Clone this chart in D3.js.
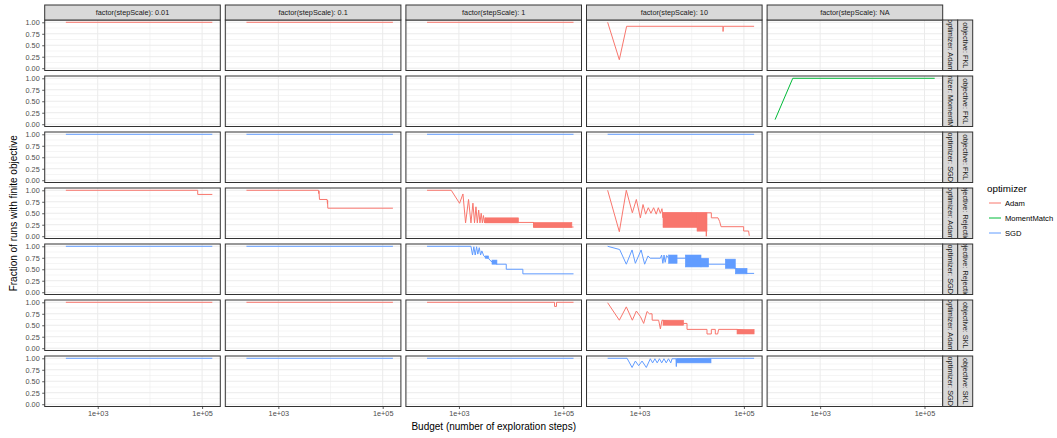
<!DOCTYPE html>
<html>
<head>
<meta charset="utf-8">
<script src="https://cdn.jsdelivr.net/npm/d3@7"></script>
<style>
    body { margin: 0; background: #fff; }
    text { font-family: "Liberation Sans", Arial, Helvetica, sans-serif; }
</style>
</head>
<body>
<div id="chart"></div>
<script>
// facet levels
var stepScales = ["0.01", "0.1", "1", "10", "NA"];
var objectives = ["FKL", "FKL", "FKL", "Rejection", "Rejection", "SKL", "SKL"];
var rowOptimizers = ["Adam", "MomentMatch", "SGD", "Adam", "SGD", "Adam", "SGD"];
var optimizers = ["Adam", "MomentMatch", "SGD"];
var optimizerColors = ["#F8766D", "#00BA38", "#619CFF"];
var xTicks = [1e3, 1e5];
var yTicks = [0, 0.25, 0.5, 0.75, 1];

// [budget, fraction] per panel
var flatRun = [[245, 1], [157000, 1]];
var fklAdam10 = [[245, 1], [410, 0.185], [566, 0.913], [39800, 0.913], [39900, 0.80], [40300, 0.913], [157000, 0.913]];
var fklMomentNA = [[137, 0.1], [299, 1], [157000, 1]];
var rejAdam001 = [[245, 1], [82400, 1], [82400, 0.91], [157000, 0.91]];
var rejAdam01 = [[245, 1], [5880, 1], [5950, 0.93], [6000, 0.99], [6150, 0.80], [8600, 0.80], [8750, 0.70], [8800, 0.78], [8870, 0.61], [157000, 0.61]];
var rejAdam1 = [[245, 1], [713, 1], [1028, 0.717], [1194, 0.92], [1340, 0.29], [1528, 0.80], [1700, 0.29], [1855, 0.72],
    [1990, 0.29], [2120, 0.64], [2250, 0.29], [2390, 0.57], [2530, 0.29], [2670, 0.50], [2810, 0.29], [2950, 0.45],
    [3090, 0.29], [3190, 0.40], [3190, 0.30], [13870, 0.30], [26900, 0.30], [26900, 0.20], [157000, 0.20]];
var rejAdam10 = [[245, 1], [410, 0.098], [558, 1], [728, 0.51], [869, 0.80], [1038, 0.40], [1167, 0.69], [1309, 0.48],
    [1472, 0.62], [1656, 0.50], [1862, 0.62], [2089, 0.48], [2291, 0.62], [2512, 0.50], [2692, 0.60], [2818, 0.40],
    [2818, 0.51], [19050, 0.51], [19050, 0.0], [19200, 0.51], [23770, 0.51], [23770, 0.40], [31900, 0.40],
    [34300, 0.32], [36500, 0.207], [98900, 0.207], [98900, 0.113], [123000, 0.113], [127000, 0.01]];
var rejSgd1 = [[245, 1], [1700, 1], [1820, 0.81], [1930, 0.99], [2050, 0.81], [2180, 0.99], [2300, 0.83], [2450, 0.97],
    [2600, 0.81], [2750, 0.90], [3000, 0.79], [3190, 0.76], [3700, 0.74], [3900, 0.70], [4300, 0.66], [5350, 0.61],
    [8070, 0.61], [8070, 0.50], [16800, 0.50], [16800, 0.40], [157000, 0.40]];
var rejSgd10 = [[245, 1], [416, 0.93], [558, 0.61], [719, 0.92], [832, 0.63], [1072, 0.92], [1253, 0.61], [1455, 0.79],
    [1600, 0.74], [2512, 0.74], [2650, 0.81], [2800, 0.63], [2950, 0.81], [3100, 0.65], [3300, 0.80], [3614, 0.74],
    [5240, 0.74], [7550, 0.74], [15070, 0.70], [21090, 0.61], [44060, 0.61], [68550, 0.52], [114800, 0.41], [157000, 0.41]];
var sklAdam1 = [[245, 1], [67900, 1], [67900, 0.91], [74100, 0.91], [74100, 1], [157000, 1]];
var sklAdam10 = [[245, 0.99], [410, 0.61], [558, 0.90], [728, 0.61], [869, 0.81], [1038, 0.69], [1200, 0.54], [1393, 0.80],
    [1542, 0.75], [1738, 0.75], [1750, 0.61], [2323, 0.61], [2512, 0.42], [2692, 0.61], [7000, 0.54], [8130, 0.54],
    [8130, 0.41], [19630, 0.41], [19630, 0.31], [23770, 0.31], [23770, 0.41], [28330, 0.41], [28330, 0.31],
    [31400, 0.31], [32800, 0.41], [73800, 0.41], [157000, 0.36]];
var sklSgd10 = [[245, 1], [577, 1], [720, 0.80], [832, 0.94], [962, 0.84], [1117, 0.94], [1349, 0.80], [1610, 0.99],
    [1780, 0.90], [1970, 0.99], [2180, 0.90], [2410, 0.99], [2660, 0.90], [2940, 0.99], [3250, 0.90], [3590, 0.99],
    [3970, 0.90], [4200, 0.99], [5000, 0.99], [5070, 0.82], [5150, 0.99], [23440, 1], [157000, 1]];

// dense oscillation regions: [row, col, budget from, budget to, low, high]
var denseBands = [
    [3, 2, 3190, 13870, 0.29, 0.40],
    [3, 2, 26900, 146000, 0.19, 0.30],
    [3, 3, 2818, 12650, 0.19, 0.51],
    [3, 3, 12650, 19630, 0.11, 0.51],
    [4, 2, 3190, 3700, 0.74, 0.79],
    [4, 2, 4300, 5350, 0.61, 0.70],
    [4, 3, 3614, 5240, 0.63, 0.81],
    [4, 3, 7550, 15070, 0.55, 0.81],
    [4, 3, 15070, 21090, 0.55, 0.74],
    [4, 3, 44060, 68550, 0.52, 0.72],
    [4, 3, 68550, 114800, 0.40, 0.52],
    [5, 3, 2818, 7000, 0.50, 0.61],
    [5, 3, 73800, 157000, 0.31, 0.41],
    [6, 3, 5150, 23440, 0.90, 0.99]
];

// [row, col, points]
var series = [
    [0, 0, flatRun], [0, 1, flatRun], [0, 2, flatRun], [0, 3, fklAdam10],
    [1, 4, fklMomentNA],
    [2, 0, flatRun], [2, 1, flatRun], [2, 2, flatRun], [2, 3, flatRun],
    [3, 0, rejAdam001], [3, 1, rejAdam01], [3, 2, rejAdam1], [3, 3, rejAdam10],
    [4, 0, flatRun], [4, 1, flatRun], [4, 2, rejSgd1], [4, 3, rejSgd10],
    [5, 0, flatRun], [5, 1, flatRun], [5, 2, sklAdam1], [5, 3, sklAdam10],
    [6, 0, flatRun], [6, 1, flatRun], [6, 2, flatRun], [6, 3, sklSgd10]
];

var layout = {left: 44.7, top: 20, panelW: 175.6, panelH: 50.5, stepX: 180.6, stepY: 56, stripH: 15, stripW: 15};
var stripFill = "#D9D9D9", darkLine = "#333333", gridColor = "#EBEBEB";

function colX(c) { return layout.left + c * layout.stepX; }
function rowY(r) { return layout.top + r * layout.stepY; }

var color = d3.scaleOrdinal().domain(optimizers).range(optimizerColors);

// log x scale with ggplot-like 5% expansion
var allX = [];
series.forEach(function (s) { s[2].forEach(function (p) { allX.push(Math.log10(p[0])); }); });
var lo = d3.min(allX), hi = d3.max(allX), pad = (hi - lo) * 0.05;
var x = d3.scaleLog()
    .domain([Math.pow(10, lo - pad), Math.pow(10, hi + pad)])
    .range([0, layout.panelW]);

var y = d3.scaleLinear()
    .domain([-0.05, 1.05])
    .range([layout.panelH, 0]);

// minor breaks halfway between majors
var yMinor = d3.pairs(yTicks).map(function (p) { return (p[0] + p[1]) / 2; });
var xMinor = [];
(function () {
    var logs = xTicks.map(Math.log10), step = logs[1] - logs[0];
    for (var v = logs[0] - step / 2; v <= hi + pad + step; v += step) {
        var b = Math.pow(10, v);
        if (b >= x.domain()[0] && b <= x.domain()[1]) xMinor.push(b);
    }
})();

var svg = d3.select("#chart")
    .append("svg")
    .attr("width", 1057)
    .attr("height", 438);

var line = d3.line()
    .x(function (d) { return x(d[0]); })
    .y(function (d) { return y(d[1]); });

var defs = svg.append("defs");
defs.append("clipPath").attr("id", "panelClip")
    .append("rect").attr("width", layout.panelW).attr("height", layout.panelH);
defs.append("clipPath").attr("id", "stripRClip")
    .append("rect").attr("width", layout.stripW).attr("height", layout.panelH);
defs.append("clipPath").attr("id", "stripTClip")
    .append("rect").attr("width", layout.panelW).attr("height", layout.stripH);

// panels
objectives.forEach(function (obj, r) {
    stepScales.forEach(function (s, c) {
        var g = svg.append("g")
            .attr("transform", "translate(" + colX(c) + "," + rowY(r) + ")");

        g.append("rect")
            .attr("width", layout.panelW)
            .attr("height", layout.panelH)
            .attr("fill", "#fff");

        // minor grid
        g.selectAll(".ymin").data(yMinor).enter().append("line")
            .attr("x1", 0).attr("x2", layout.panelW)
            .attr("y1", function (d) { return y(d); }).attr("y2", function (d) { return y(d); })
            .attr("stroke", gridColor).attr("stroke-width", 0.5);
        g.selectAll(".xmin").data(xMinor).enter().append("line")
            .attr("y1", 0).attr("y2", layout.panelH)
            .attr("x1", function (d) { return x(d); }).attr("x2", function (d) { return x(d); })
            .attr("stroke", gridColor).attr("stroke-width", 0.5);
        // major grid
        g.selectAll(".ymaj").data(yTicks).enter().append("line")
            .attr("x1", 0).attr("x2", layout.panelW)
            .attr("y1", function (d) { return y(d); }).attr("y2", function (d) { return y(d); })
            .attr("stroke", gridColor).attr("stroke-width", 1);
        g.selectAll(".xmaj").data(xTicks).enter().append("line")
            .attr("y1", 0).attr("y2", layout.panelH)
            .attr("x1", function (d) { return x(d); }).attr("x2", function (d) { return x(d); })
            .attr("stroke", gridColor).attr("stroke-width", 1);

        var plot = g.append("g").attr("clip-path", "url(#panelClip)");
        var col = color(rowOptimizers[r]);

        denseBands.filter(function (b) { return b[0] === r && b[1] === c; }).forEach(function (b) {
            plot.append("rect")
                .attr("x", x(b[2]))
                .attr("width", x(b[3]) - x(b[2]))
                .attr("y", y(b[5]))
                .attr("height", y(b[4]) - y(b[5]))
                .attr("fill", col)
                .attr("stroke", col)
                .attr("stroke-width", 0.6);
        });

        series.filter(function (d) { return d[0] === r && d[1] === c; }).forEach(function (d) {
            plot.append("path")
                .attr("d", line(d[2]))
                .attr("fill", "none")
                .attr("stroke", col)
                .attr("stroke-width", 1);
        });

        g.append("rect")
            .attr("width", layout.panelW)
            .attr("height", layout.panelH)
            .attr("fill", "none")
            .attr("stroke", darkLine)
            .attr("stroke-width", 1);

        // y axis on the first column
        if (c === 0) {
            var ya = g.append("g")
                .call(d3.axisLeft(y).tickValues(yTicks).tickFormat(d3.format(".2f")).tickSize(2.5).tickPadding(2.5));
            styleAxis(ya);
        }
        // x axis on the last row
        if (r === objectives.length - 1) {
            var xa = g.append("g")
                .attr("transform", "translate(0," + layout.panelH + ")")
                .call(d3.axisBottom(x).tickValues(xTicks).tickSize(2.5).tickPadding(1.5)
                    .tickFormat(function (d) { return "1e+" + d3.format("02d")(Math.round(Math.log10(d))); }));
            styleAxis(xa);
        }
    });
});

function styleAxis(a) {
    a.select(".domain").remove();
    a.selectAll(".tick line").attr("stroke", darkLine).attr("stroke-width", 0.8);
    a.selectAll(".tick text").attr("fill", "#4D4D4D").style("font-size", "7.3px");
}

// top strips
stepScales.forEach(function (s, c) {
    var g = svg.append("g")
        .attr("transform", "translate(" + colX(c) + "," + (layout.top - layout.stripH) + ")");
    g.append("rect")
        .attr("width", layout.panelW).attr("height", layout.stripH)
        .attr("fill", stripFill).attr("stroke", darkLine).attr("stroke-width", 1);
    g.append("g").attr("clip-path", "url(#stripTClip)")
        .append("text")
        .attr("x", layout.panelW / 2)
        .attr("y", layout.stripH / 2)
        .attr("dy", ".35em")
        .attr("text-anchor", "middle")
        .attr("fill", "#1A1A1A")
        .style("font-size", "7.3px")
        .text("factor(stepScale): " + s);
});

// right strips: optimizer then objective
var stripX0 = colX(stepScales.length - 1) + layout.panelW;
objectives.forEach(function (obj, r) {
    var labels = ["optimizer: " + rowOptimizers[r], "objective: " + obj];
    labels.forEach(function (lab, k) {
        var g = svg.append("g")
            .attr("transform", "translate(" + (stripX0 + k * layout.stripW) + "," + rowY(r) + ")");
        g.append("rect")
            .attr("width", layout.stripW).attr("height", layout.panelH)
            .attr("fill", stripFill).attr("stroke", darkLine).attr("stroke-width", 1);
        g.append("g").attr("clip-path", "url(#stripRClip)")
            .append("text")
            .attr("transform", "translate(" + (layout.stripW / 2) + "," + (layout.panelH / 2) + ") rotate(90)")
            .attr("dy", ".35em")
            .attr("text-anchor", "middle")
            .attr("fill", "#1A1A1A")
            .style("font-size", "7.3px")
            .text(lab);
    });
});

//axis titles
var plotRight = stripX0;
svg.append("text")
    .attr("x", (layout.left + plotRight) / 2)
    .attr("y", 430)
    .attr("text-anchor", "middle")
    .style("font-size", "10px")
    .text("Budget (number of exploration steps)");

var plotBottom = rowY(objectives.length - 1) + layout.panelH;
svg.append("text")
    .attr("transform", "rotate(-90)")
    .attr("x", -(layout.top + plotBottom) / 2)
    .attr("y", 17)
    .attr("text-anchor", "middle")
    .style("font-size", "10px")
    .text("Fraction of runs with finite objective");

//legend
svg.append("text")
    .attr("x", 987)
    .attr("y", 192)
    .style("font-size", "9.8px")
    .text("optimizer");

var legend = svg.selectAll(".legend")
    .data(optimizers)
    .enter().append("g")
    .attr("class", "legend")
    .attr("transform", function (d, i) {
        return "translate(988," + (203 + i * 15) + ")";
    });

legend.append("line")
    .attr("x1", 1).attr("x2", 13)
    .attr("stroke", function (d) { return color(d); })
    .attr("stroke-width", 1);

legend.append("text")
    .attr("x", 17)
    .attr("dy", ".35em")
    .style("font-size", "7.6px")
    .text(function (d) { return d; });
</script>
</body>
</html>
